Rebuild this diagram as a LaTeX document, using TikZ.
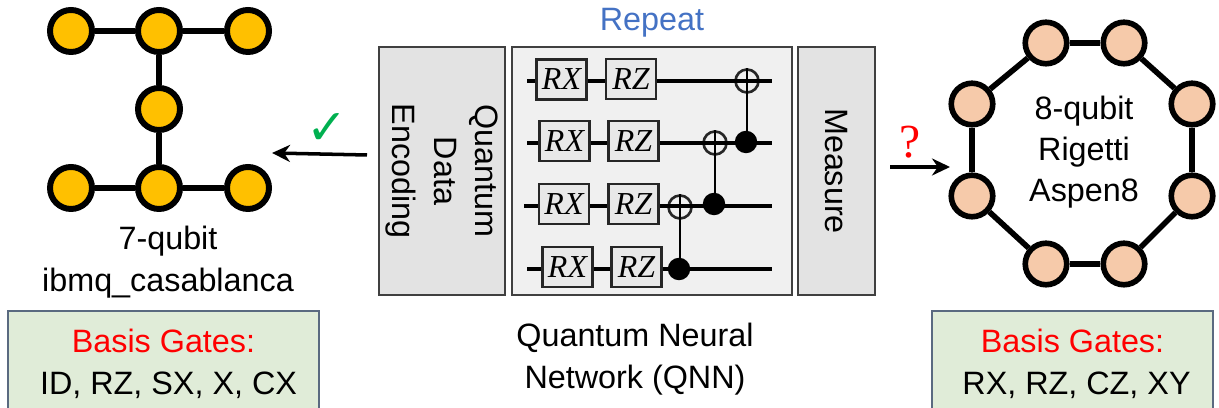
\documentclass[tikz,border=0pt]{standalone}
\usepackage{fontspec}
\setmainfont{Liberation Sans}
\newfontfamily\serifgate{Liberation Serif}
\newfontfamily\symbolfont{DejaVu Sans}
\usepackage{xcolor}
\usetikzlibrary{arrows.meta,positioning}
\definecolor{qorange}{HTML}{FFC000}
\definecolor{qpeach}{HTML}{F6CAAA}
\definecolor{qgreen}{HTML}{E0ECD8}
\definecolor{qblue}{HTML}{4472C4}
\definecolor{qslate}{HTML}{5A6A80}
\definecolor{qcheck}{HTML}{00B050}

\begin{document}
\begin{tikzpicture}[
  txt/.style   ={font=\fontsize{9.2}{10.9}\selectfont,align=center,inner sep=0pt},
  ibm/.style   ={circle,draw=black,fill=qorange,line width=1.7pt,minimum size=0.42cm,inner sep=0pt},
  rig/.style   ={circle,draw=black,fill=qpeach,line width=1.6pt,minimum size=0.415cm,inner sep=0pt},
  link/.style  ={line width=1.6pt},
  panel/.style ={rectangle,draw=black!75,line width=0.5pt,inner sep=0pt,txt},
  basis/.style ={rectangle,draw=qslate,fill=qgreen,line width=0.6pt,inner sep=0pt,txt},
  gate/.style  ={rectangle,draw=black!85,fill=black!9,line width=0.6pt,minimum width=0.50cm,
                 minimum height=0.40cm,inner sep=0pt,font=\fontsize{9.1}{10.9}\selectfont\serifgate\itshape},
  wire/.style  ={line width=1pt},
  targ/.style  ={circle,draw=black!85,line width=0.75pt,minimum size=0.23cm,inner sep=0pt},
  ctrl/.style  ={circle,draw=black,fill=black,minimum size=0.21cm,inner sep=0pt},
  arr/.style   ={-{Stealth[length=0.18cm,width=0.17cm]},line width=1pt}
]
\path[use as bounding box,clip] (0,0) rectangle (12.19,-4.08);

%% Left device, 7 qubits
\node[ibm] (a1) at (0.71,-0.31) {};
\node[ibm] (a2) at (1.59,-0.31) {};
\node[ibm] (a3) at (2.48,-0.31) {};
\node[ibm] (a4) at (1.59,-1.09) {};
\node[ibm] (a5) at (0.71,-1.88) {};
\node[ibm] (a6) at (1.59,-1.88) {};
\node[ibm] (a7) at (2.48,-1.88) {};
\draw[link] (a1) -- (a2);
\draw[link] (a2) -- (a3);
\draw[link] (a2) -- (a4);
\draw[link] (a4) -- (a6);
\draw[link] (a5) -- (a6);
\draw[link] (a6) -- (a7);
\node[txt] (casa) at (1.68,-2.62) {7-qubit\\[0.03cm]ibmq\_casablanca};

%% Right device, 8 qubits
\node[rig] (b1) at (10.46,-0.43) {};
\node[rig] (b2) at (11.24,-0.43) {};
\node[rig] (b3) at (11.92,-1.04) {};
\node[rig] (b4) at (11.92,-1.96) {};
\node[rig] (b5) at (11.24,-2.64) {};
\node[rig] (b6) at (10.46,-2.64) {};
\node[rig] (b7) at (9.72,-1.96) {};
\node[rig] (b8) at (9.72,-1.04) {};
\draw[link] (b1) -- (b2);
\draw[link] (b2) -- (b3);
\draw[link] (b3) -- (b4);
\draw[link] (b4) -- (b5);
\draw[link] (b5) -- (b6);
\draw[link] (b6) -- (b7);
\draw[link] (b7) -- (b8);
\draw[link] (b8) -- (b1);
\node[txt] (aspen) at (10.84,-1.52) {8-qubit\\[0.03cm]Rigetti\\[0.03cm]Aspen8};

%% QNN panels
\node[panel,fill=black!11,rotate=270,minimum width=2.485cm,minimum height=1.265cm]
  (enc) at (4.42,-1.71) {Quantum\\[0.03cm]Data\\[0.03cm]Encoding};
\node[panel,fill=black!6,minimum width=2.80cm,minimum height=2.485cm] (rep) at (6.52,-1.71) {};
\node[panel,fill=black!11,rotate=270,minimum width=2.485cm,minimum height=0.77cm]
  (mea) at (8.365,-1.71) {Measure};
\node[txt,text=qblue,above=0.08cm of rep] (rpt) {Repeat};
\node[txt] (qnn) at (6.35,-3.59) {Quantum Neural\\[0.03cm]Network (QNN)};

%% Gates
\node[gate] (rx1) at (5.615,-0.795) {RX};
\node[gate] (rz1) at (6.31,-0.79)   {RZ};
\node[gate] (rx2) at (5.645,-1.41)  {RX};
\node[gate] (rz2) at (6.335,-1.41)  {RZ};
\node[gate] (rx3) at (5.64,-2.04)   {RX};
\node[gate] (rz3) at (6.335,-2.04)  {RZ};
\node[gate] (rx4) at (5.675,-2.67)  {RX};
\node[gate] (rz4) at (6.365,-2.67)  {RZ};

%% Wire ends
\coordinate (w1s) at (5.27,-0.81);
\coordinate (w1e) at (7.72,-0.81);
\coordinate (w2s) at (5.27,-1.43);
\coordinate (w2e) at (7.72,-1.43);
\coordinate (w3s) at (5.24,-2.06);
\coordinate (w3e) at (7.72,-2.06);
\coordinate (w4s) at (5.27,-2.69);
\coordinate (w4e) at (7.72,-2.69);

%% CNOTs
\node[targ] (t1) at (7.47,-0.81) {};
\node[targ] (t2) at (7.15,-1.43) {};
\node[targ] (t3) at (6.80,-2.07) {};
\node[ctrl] (c1) at (7.46,-1.42) {};
\node[ctrl] (c2) at (7.14,-2.04) {};
\node[ctrl] (c3) at (6.79,-2.69) {};

%% Wires
\draw[wire] (w1s) -- (rx1.west |- w1s);
\draw[wire] (rx1.east |- w1s) -- (rz1.west |- w1s);
\draw[wire] (rz1.east |- w1s) -- (w1e);
\draw[wire] (w2s) -- (rx2.west |- w2s);
\draw[wire] (rx2.east |- w2s) -- (rz2.west |- w2s);
\draw[wire] (rz2.east |- w2s) -- (w2e);
\draw[wire] (w3s) -- (rx3.west |- w3s);
\draw[wire] (rx3.east |- w3s) -- (rz3.west |- w3s);
\draw[wire] (rz3.east |- w3s) -- (w3e);
\draw[wire] (w4s) -- (rx4.west |- w4s);
\draw[wire] (rx4.east |- w4s) -- (rz4.west |- w4s);
\draw[wire] (rz4.east |- w4s) -- (w4e);
\draw[line width=0.7pt] (t1.north) -- (t1.north |- c1);
\draw[line width=0.7pt] (t2.north) -- (t2.north |- c2);
\draw[line width=0.7pt] (t3.north) -- (t3.north |- c3);

%% Arrows with marks
\coordinate (ls) at (3.67,-1.55);
\coordinate (le) at (2.72,-1.53);
\coordinate (rs) at (8.90,-1.67);
\coordinate (re) at (9.50,-1.67);
\draw[arr] (ls) -- (le);
\draw[arr] (rs) -- (re);
\node[font=\fontsize{14}{14}\selectfont\symbolfont,text=qcheck,inner sep=0pt] (yes) at (3.27,-1.29) {✓};
\node[font=\fontsize{13.5}{13.5}\selectfont\serifgate,text=red,inner sep=0pt] (no) at (9.10,-1.42) {?};

%% Basis gate boxes
\node[basis,minimum width=3.105cm,minimum height=1.06cm] (basl) at (1.635,-3.64)
  {{\color{red}Basis Gates:}\\[0.03cm]\hspace*{0.1cm}ID, RZ, SX, X, CX};
\node[basis,minimum width=2.81cm,minimum height=1.06cm] (basr) at (10.725,-3.64)
  {{\color{red}Basis Gates:}\\[0.03cm]\hspace*{0.08cm}RX, RZ, CZ, XY};
\end{tikzpicture}
\end{document}
